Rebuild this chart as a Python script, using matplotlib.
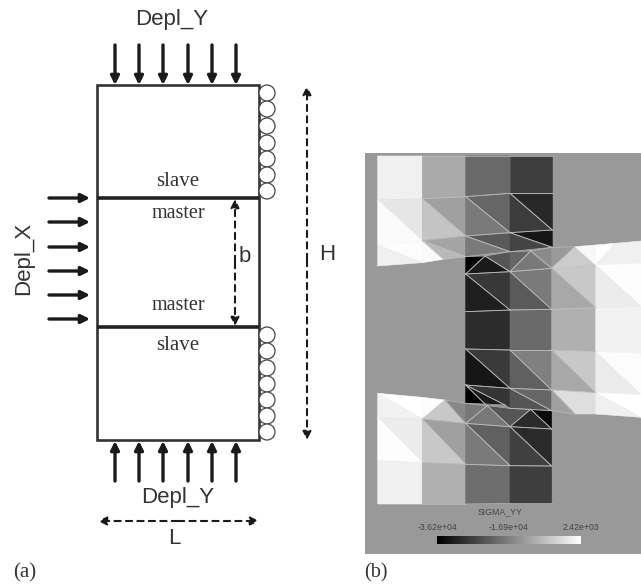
import matplotlib
matplotlib.use("Agg")
import matplotlib.pyplot as plt
import numpy as np
from matplotlib.collections import PolyCollection
from matplotlib.patches import Circle, Rectangle

SANS = "Liberation Sans"
SERIF = "Liberation Serif"

# --- panel (a) values, image pixels
box_left, box_right = 97, 259
box_top, box_bottom = 85, 440
iface_upper, iface_lower = 198, 327
top_arrow_x = [115, 139, 163, 188, 212, 236]
left_arrow_y = [198, 222, 247, 271, 295, 319]
roller_y_upper = [93, 109, 126, 143, 159, 175, 191]
roller_y_lower = [335, 351, 368, 384, 400, 416, 432]

upper_mesh = [
    ([(38, 18), (172, 18), (172, 146), (38, 150)], 240),
    ([(172, 18), (302, 18), (302, 140), (172, 146)], 170),
    ([(302, 18), (435, 18), (435, 130), (302, 140)], 106),
    ([(435, 18), (562, 18), (562, 130), (435, 130)], 62),
    ([(38, 150), (172, 146), (172, 272)], 230),
    ([(38, 150), (172, 272), (38, 285)], 251),
    ([(172, 146), (302, 140), (302, 258)], 160),
    ([(172, 146), (302, 258), (172, 272)], 196),
    ([(302, 140), (435, 130), (435, 248)], 102),
    ([(302, 140), (435, 248), (302, 258)], 122),
    ([(435, 130), (562, 130), (562, 240)], 40),
    ([(435, 130), (562, 240), (435, 248)], 60),
    ([(38, 285), (172, 272), (172, 338)], 252),
    ([(38, 285), (172, 338), (38, 348)], 240),
    ([(172, 272), (302, 258), (302, 320)], 164),
    ([(172, 272), (302, 320), (235, 328)], 184),
    ([(172, 272), (235, 328), (172, 338)], 250),
    ([(302, 258), (435, 248), (435, 305)], 90),
    ([(302, 258), (435, 305), (302, 320)], 122),
    ([(435, 248), (562, 240), (562, 292)], 22),
    ([(435, 248), (562, 292), (435, 305)], 68),
    # centre block, top rows
    ([(302, 320), (360, 318), (302, 372)], 0),
    ([(360, 318), (435, 365), (302, 372)], 26),
    ([(360, 318), (435, 305), (435, 365)], 85),
    ([(435, 305), (497, 303), (435, 365)], 102),
    ([(497, 303), (560, 355), (435, 365)], 120),
    ([(497, 303), (560, 292), (560, 355)], 138),
    ([(560, 292), (630, 290), (560, 355)], 154),
    ([(630, 290), (692, 345), (560, 355)], 204),
    ([(630, 290), (692, 285), (692, 345)], 248),
    ([(692, 285), (750, 280), (692, 345)], 255),
    ([(750, 280), (828, 273), (828, 340), (692, 345)], 240),
    ([(302, 372), (435, 365), (435, 480)], 56),
    ([(302, 372), (435, 480), (302, 485)], 30),
    ([(435, 365), (560, 355), (560, 478)], 122),
    ([(435, 365), (560, 478), (435, 480)], 90),
    ([(560, 355), (692, 345), (692, 473)], 200),
    ([(560, 355), (692, 473), (560, 478)], 168),
    ([(692, 345), (828, 340), (828, 470)], 253),
    ([(692, 345), (828, 470), (692, 473)], 236),
    ([(302, 485), (435, 480), (435, 600), (302, 597)], 44),
    ([(435, 480), (560, 478), (560, 600), (435, 600)], 106),
    ([(560, 478), (692, 473), (692, 605), (560, 600)], 176),
    ([(692, 473), (828, 470), (828, 610), (692, 605)], 242),
]

lower_mesh = [
    ([(302, 27), (435, 30), (435, 145)], 58),
    ([(302, 27), (435, 145), (302, 135)], 22),
    ([(435, 30), (560, 30), (560, 150)], 128),
    ([(435, 30), (560, 150), (435, 145)], 96),
    ([(560, 30), (692, 35), (692, 158)], 200),
    ([(560, 30), (692, 158), (560, 150)], 168),
    ([(692, 35), (828, 40), (828, 165)], 252),
    ([(692, 35), (828, 165), (692, 158)], 236),
    ([(302, 135), (360, 192), (302, 190)], 0),
    ([(302, 135), (420, 195), (360, 192)], 26),
    ([(302, 135), (435, 145), (435, 205), (420, 195)], 52),
    ([(435, 145), (560, 150), (560, 212)], 102),
    ([(435, 145), (560, 212), (435, 205)], 85),
    ([(560, 150), (692, 158), (692, 222), (630, 222)], 222),
    ([(560, 150), (630, 222), (560, 212)], 160),
    ([(692, 158), (828, 165), (828, 232)], 255),
    ([(692, 158), (828, 232), (692, 222)], 240),
    # lower-left block
    ([(38, 160), (172, 172), (172, 237)], 255),
    ([(38, 160), (172, 237), (38, 232)], 242),
    ([(172, 172), (240, 180), (172, 237)], 252),
    ([(240, 180), (302, 250), (172, 237)], 200),
    ([(240, 180), (302, 190), (302, 250)], 136),
    ([(302, 190), (367, 197), (302, 250)], 120),
    ([(367, 197), (435, 260), (302, 250)], 120),
    ([(367, 197), (435, 205), (435, 260)], 85),
    ([(435, 205), (497, 208), (435, 260)], 85),
    ([(497, 208), (560, 267), (435, 260)], 42),
    ([(497, 208), (560, 212), (560, 267)], 10),
    ([(38, 232), (172, 237), (172, 368)], 236),
    ([(38, 232), (172, 368), (38, 362)], 253),
    ([(172, 237), (302, 250), (302, 373)], 160),
    ([(172, 237), (302, 373), (172, 368)], 200),
    ([(302, 250), (435, 260), (435, 377)], 96),
    ([(302, 250), (435, 377), (302, 373)], 122),
    ([(435, 260), (560, 267), (560, 378)], 42),
    ([(435, 260), (560, 378), (435, 377)], 64),
    ([(38, 362), (172, 368), (172, 492), (38, 492)], 240),
    ([(172, 368), (302, 373), (302, 492), (172, 492)], 176),
    ([(302, 373), (435, 377), (435, 490), (302, 492)], 110),
    ([(435, 377), (560, 378), (560, 490), (435, 490)], 62),
]

cbar_ticks = ["-3.62e+04", "-1.69e+04", "2.42e+03"]
cbar_tick_x = [437, 509, 581]

fig = plt.figure(figsize=(6.41, 5.84), dpi=100)
ax = fig.add_axes([0, 0, 1, 1])
ax.set_xlim(0, 641)
ax.set_ylim(584, 0)
ax.axis("off")


def arrow(x0, y0, x1, y1, dashed=False):
    ax.annotate("", xy=(x1, y1), xytext=(x0, y0),
                arrowprops=dict(arrowstyle="-|>,head_length=0.5,head_width=0.25",
                                lw=1.5 if dashed else 2.4, color="#1a1a1a",
                                ls=(0, (3, 2.5)) if dashed else "-",
                                shrinkA=0, shrinkB=0))


# panel (a)
ax.add_patch(Rectangle((box_left, box_top), box_right - box_left, box_bottom - box_top,
                       fill=False, ec="#333333", lw=1.9))
for y in [iface_upper, iface_lower]:
    ax.plot([box_left, box_right], [y, y], color="#222222", lw=2.6, solid_capstyle="butt")

for x in top_arrow_x:
    arrow(x, 45, x, 85)
    arrow(x, 481, x, 441)
for y in left_arrow_y:
    arrow(49, y, 90, y)
for y in roller_y_upper + roller_y_lower:
    ax.add_patch(Circle((267, y), 8, fc="white", ec="#444444", lw=0.9))

arrow(307, 260, 307, 86, dashed=True)
arrow(307, 260, 307, 440, dashed=True)
arrow(235, 262, 235, 199, dashed=True)
arrow(235, 262, 235, 326, dashed=True)
arrow(178, 521, 98, 521, dashed=True)
arrow(178, 521, 259, 521, dashed=True)

label = dict(family=SANS, color="#333333", ha="center", va="center")
ax.text(172, 19, "Depl_Y", fontsize=16, **label)
ax.text(178, 498, "Depl_Y", fontsize=16, **label)
ax.text(24, 258, "Depl_X", fontsize=16, rotation=90, **label)
ax.text(327, 255, "H", fontsize=16, **label)
ax.text(245, 256, "b", fontsize=16, **label)
ax.text(174, 538, "L", fontsize=16, **label)

serif = dict(family=SERIF, color="#333333", ha="center", va="center")
ax.text(178, 181, "slave", fontsize=15, **serif)
ax.text(178, 214, "master", fontsize=14.5, **serif)
ax.text(178, 306, "master", fontsize=14.5, **serif)
ax.text(178, 346, "slave", fontsize=15, **serif)
ax.text(25, 573, "(a)", fontsize=15, **serif)
ax.text(376, 573, "(b)", fontsize=14.5, **serif)

# panel (b)
ax.add_patch(Rectangle((365, 153), 276, 401, fc="#999999", ec="none"))


def draw_mesh(mesh, y_origin):
    polys = [np.array(pts) / 3 + [365, y_origin] for pts, _ in mesh]
    faces = [(g / 255, g / 255, g / 255) for _, g in mesh]
    ax.add_collection(PolyCollection(polys, facecolors=faces, edgecolors=faces, linewidths=0.4))
    # light element outlines, left off the near-white cells and the vertical sides
    for poly, (_, g) in zip(polys, mesh):
        if g >= 195:
            continue
        closed = np.vstack([poly, poly[:1]])
        for a, b in zip(closed[:-1], closed[1:]):
            if abs(a[0] - b[0]) > 1:
                ax.plot([a[0], b[0]], [a[1], b[1]], color="#bdbdbd", lw=0.6, alpha=0.8)


draw_mesh(upper_mesh, 150)
draw_mesh(lower_mesh, 340)

small = dict(family=SANS, color="#444444", ha="center", va="center", fontsize=6.3)
ax.text(500, 512, "SIGMA_YY", **small)
for x, t in zip(cbar_tick_x, cbar_ticks):
    ax.text(x, 527, t, **small)
ax.imshow(np.linspace(0, 1, 256)[None, :], cmap="gray", extent=(437, 581, 544, 536),
          aspect="auto", zorder=3)
ax.set_xlim(0, 641)
ax.set_ylim(584, 0)

fig.savefig("out.png", dpi=100, facecolor="white")
